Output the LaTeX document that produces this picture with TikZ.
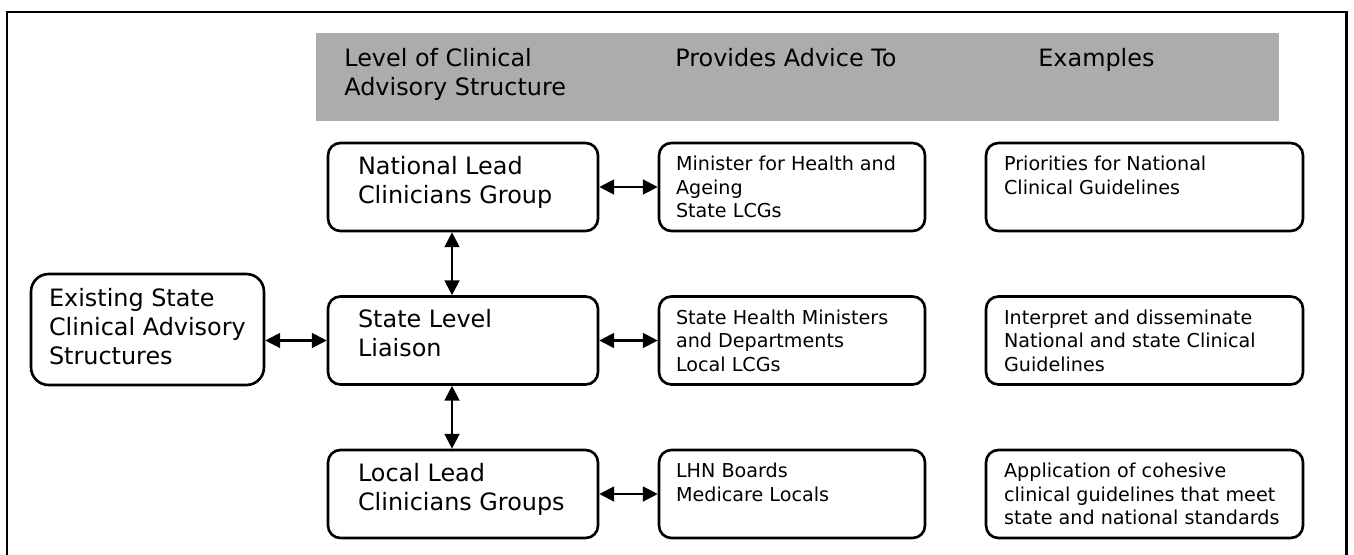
\documentclass[tikz,border=0pt]{standalone}
\usepackage{fontspec}
\setmainfont{DejaVu Sans}
\usepackage{xcolor}
\usetikzlibrary{arrows.meta,positioning}
\definecolor{headgray}{RGB}{172,172,172}

\begin{document}
\begin{tikzpicture}[x=0.02cm, y=-0.02cm, >={Triangle[length=8.5pt,width=8.5pt]},
		box/.style={draw, line width=1.5pt, rounded corners=7pt, minimum width=5.4cm, minimum height=1.76cm, inner sep=0pt},
		advbox/.style={box, minimum width=5.32cm},
		exbox/.style={box, minimum width=6.34cm},
		bigtxt/.style={anchor=north west, inner sep=0pt, align=left, font=\fontsize{13.6}{16.5}\selectfont},
		smalltxt/.style={anchor=north west, inner sep=0pt, align=left, font=\fontsize{10.9}{13.4}\selectfont},
		link/.style={<->, line width=1.2pt}]
		\useasboundingbox (0,0) rectangle (1354,554);
		\draw[line width=1.7pt] (7,560) -- (7,12) -- (1346,12) -- (1346,560);

		% header
		\node[fill=headgray, minimum width=19.26cm, minimum height=1.76cm, inner sep=0pt] (head) at (797.5,77) {};
		\node[bigtxt] (hLevel) at (344,48) {Level of Clinical\\Advisory Structure};
		\node[bigtxt] (hAdv) at (675,48) {Provides Advice To};
		\node[bigtxt] (hEx) at (1038,48) {Examples};

		% boxes
		\node[box] (nat) at (463,187) {};
		\node[box] (sta) at (463,340.5) {};
		\node[box] (loc) at (463,494) {};
		\node[advbox] (natAdv) at (792,187) {};
		\node[advbox] (staAdv) at (792,340.5) {};
		\node[advbox] (locAdv) at (792,494) {};
		\node[exbox] (natEx) at (1144.5,187) {};
		\node[exbox] (staEx) at (1144.5,340.5) {};
		\node[exbox] (locEx) at (1144.5,494) {};
		\node[box, rounded corners=10pt, minimum width=4.66cm, minimum height=2.22cm] (exist) at (147.5,329.5) {};

		% texts
		\node[bigtxt] (natT) at ([shift={(31,14)}]nat.north west) {National Lead\\Clinicians Group};
		\node[bigtxt] (staT) at ([shift={(31,14)}]sta.north west) {State Level\\Liaison};
		\node[bigtxt] (locT) at ([shift={(31,14)}]loc.north west) {Local Lead\\Clinicians Groups};
		\node[bigtxt] (existT) at ([shift={(19,15)}]exist.north west) {Existing State\\Clinical Advisory\\Structures};
		\node[smalltxt] (natAdvT) at ([shift={(18,14)}]natAdv.north west) {Minister for Health and\\Ageing\\State LCGs};
		\node[smalltxt] (staAdvT) at ([shift={(18,14)}]staAdv.north west) {State Health Ministers\\and Departments\\Local LCGs};
		\node[smalltxt] (locAdvT) at ([shift={(18,14)}]locAdv.north west) {LHN Boards\\Medicare Locals};
		\node[smalltxt] (natExT) at ([shift={(19,14)}]natEx.north west) {Priorities for National\\Clinical Guidelines};
		\node[smalltxt] (staExT) at ([shift={(19,14)}]staEx.north west) {Interpret and disseminate\\National and state Clinical\\Guidelines};
		\node[smalltxt] (locExT) at ([shift={(19,14)}]locEx.north west) {Application of cohesive\\clinical guidelines that meet\\state and national standards};

		% connectors
		\draw[link] (nat) -- (natAdv);
		\draw[link] (sta) -- (staAdv);
		\draw[link] (loc) -- (locAdv);
		\draw[link] (exist.east |- sta.west) -- (sta.west);
		\draw[link] ([xshift=-0.22cm]nat.south) -- ([xshift=-0.22cm]sta.north);
		\draw[link] ([xshift=-0.22cm]sta.south) -- ([xshift=-0.22cm]loc.north);
	\end{tikzpicture}
\end{document}
